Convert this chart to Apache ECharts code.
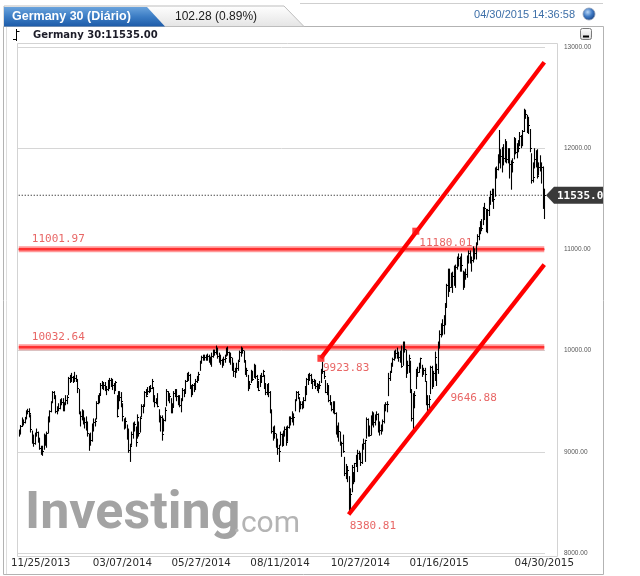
<!DOCTYPE html>
<html>
<head>
<meta charset="utf-8">
<script src="https://cdn.jsdelivr.net/npm/echarts@6/dist/echarts.min.js"></script>
<style>
html,body{margin:0;padding:0;background:#fff;}
#c{width:640px;height:576px;}
</style>
</head>
<body>
<div id="c"></div>
<script>
// ---- Data: daily bars [low, high, close], Germany 30 (DAX) ----
const nov13 = [
 [9150,9220,9190],[9170,9265,9255],
 [9245,9340,9299],[9260,9320,9292],[9280,9345,9336],[9320,9410,9400],[9370,9425,9405]
];
const dec13 = [
 [9340,9430,9380],[9190,9370,9225],[9080,9210,9140],[9050,9170,9085],[9070,9190,9172],
 [9150,9230,9191],[9090,9200,9114],[9020,9140,9035],[8970,9060,9017],[8960,9060,9006],
 [9020,9180,9163],[9060,9170,9085],[9040,9200,9181],[9180,9350,9336],[9290,9410,9400],
 [9390,9500,9488],[9480,9600,9590],[9520,9600,9552]
];
const jan14 = [
 [9380,9560,9400],[9370,9450,9435],
 [9400,9480,9428],[9420,9520,9506],[9460,9530,9497],[9400,9530,9421],[9400,9490,9473],
 [9460,9560,9510],[9470,9560,9540],[9560,9740,9733],[9680,9760,9717],[9690,9780,9742],
 [9680,9750,9715],[9690,9790,9730],[9690,9760,9720],[9580,9720,9631],[9370,9620,9392],
 [9250,9400,9349],[9310,9420,9406],[9270,9410,9300],[9230,9340,9290],[9210,9350,9270]
];
const feb14 = [
 [9150,9300,9186],[9010,9180,9127],[9060,9190,9117],[9100,9280,9265],[9200,9330,9290],
 [9250,9330,9300],[9320,9500,9478],[9470,9560,9540],[9480,9580,9563],[9560,9680,9662],
 [9620,9700,9656],[9610,9690,9660],[9600,9690,9610],[9560,9650,9618],[9600,9710,9656],
 [9620,9730,9708],[9640,9730,9699],[9610,9720,9661],[9570,9680,9631],[9600,9700,9692]
];
const mar14 = [
 [9340,9560,9358],[9420,9600,9589],[9500,9600,9542],[9440,9590,9498],[9300,9480,9350],
 [9220,9330,9265],[9230,9340,9307],[9120,9270,9189],[8990,9230,9017],[8900,9080,9056],
 [9060,9200,9180],[9130,9290,9242],[9200,9300,9277],[9050,9250,9093],[9130,9370,9342],
 [9150,9300,9188],[9190,9350,9338],[9340,9470,9448],[9380,9470,9451],[9450,9600,9587],
 [9540,9620,9556]
];
const apr14 = [
 [9560,9640,9603],[9580,9650,9623],[9590,9660,9628],[9620,9720,9695],
 [9490,9640,9510],[9440,9560,9490],[9470,9530,9506],[9440,9580,9455],[9290,9420,9315],
 [9200,9360,9340],[9110,9360,9173],[9200,9330,9317],[9300,9440,9409],
 [9450,9620,9600],[9500,9600,9545],[9480,9580,9548],[9380,9530,9401],
 [9380,9480,9446],[9440,9600,9585],[9540,9620,9603]
];
const may14 = [
 [9500,9620,9556],
 [9460,9560,9530],[9440,9560,9467],[9390,9530,9521],[9500,9630,9607],[9540,9620,9581],
 [9580,9710,9703],[9690,9780,9754],[9700,9790,9762],[9620,9770,9656],[9540,9660,9630],
 [9560,9670,9659],[9590,9680,9639],[9610,9720,9697],[9680,9750,9720],[9700,9790,9768],
 [9800,9900,9892],[9870,9950,9940],[9900,9960,9939],[9900,9960,9938],[9900,9960,9943]
];
const jun14 = [
 [9900,9970,9950],[9880,9960,9920],[9860,9940,9926],[9840,9980,9947],[9930,10010,9987],
 [9950,10010,9990],[9960,10050,10028],[9920,10030,9950],[9880,9980,9938],[9860,9960,9912],
 [9830,9920,9883],[9850,9940,9920],[9880,9960,9929],[9940,10030,10004],[9950,10040,9987],
 [9880,9990,9920],[9860,9980,9938],[9800,9930,9868],[9740,9880,9795],[9730,9830,9815],
 [9780,9880,9833]
];
const jul14 = [
 [9800,9910,9902],[9900,10000,9990],[9940,10040,10009],[9970,10030,10009],
 [9880,10000,9907],[9760,9900,9772],[9740,9830,9808],[9600,9760,9659],[9620,9700,9666],
 [9680,9810,9783],[9700,9800,9719],[9730,9870,9859],[9720,9860,9753],[9630,9760,9720],
 [9600,9700,9613],[9640,9760,9734],[9680,9780,9753],[9740,9810,9797],[9620,9760,9644],
 [9560,9680,9593],[9560,9670,9653],[9540,9680,9593],[9380,9600,9407]
];
const aug14 = [
 [9180,9420,9210],
 [9110,9250,9154],[9130,9260,9189],[9040,9180,9130],[8970,9130,9039],[8900,9070,9009],
 [9060,9200,9180],[9050,9180,9070],[9060,9210,9199],[9150,9250,9225],[9060,9250,9093],
 [9100,9260,9245],[9230,9350,9334],[9260,9350,9336],[9290,9400,9315],[9260,9380,9339],
 [9400,9520,9510],[9500,9600,9588],[9520,9600,9569],[9390,9540,9462],[9420,9500,9470]
];
const sep14 = [
 [9420,9500,9459],[9430,9540,9507],[9500,9650,9626],[9560,9730,9724],[9660,9770,9747],
 [9700,9780,9758],[9670,9770,9686],[9620,9720,9700],[9650,9720,9691],[9620,9710,9651],
 [9600,9680,9660],[9580,9670,9632],[9620,9700,9661],[9680,9820,9799],[9770,9890,9799],
 [9720,9800,9749],[9580,9710,9595],[9560,9680,9661],[9490,9660,9510],[9460,9560,9490],
 [9400,9490,9422],[9380,9500,9474]
];
const oct14 = [
 [9370,9500,9382],[9170,9390,9195],[9140,9260,9195],
 [9100,9290,9210],[9060,9200,9086],[8950,9100,9086],[8990,9170,9005],[8760,8950,8788],
 [8730,8880,8812],[8700,8860,8825],[8385,8760,8572],[8420,8640,8582],[8600,8870,8850],
 [8680,8800,8717],[8700,8890,8886],[8850,8970,8940],[8800,9020,8987],[8920,9010,8988],
 [8860,8990,8902],[8880,9080,9068],[9020,9130,9083],[8900,9120,9114],[9130,9340,9326]
];
const nov14 = [
 [9150,9330,9251],[9150,9260,9167],[9160,9360,9316],[9260,9400,9378],[9240,9390,9291],
 [9260,9370,9351],[9310,9400,9369],[9190,9380,9211],[9160,9300,9220],[9170,9270,9252],
 [9200,9320,9306],[9280,9470,9456],[9400,9490,9473],[9390,9500,9472],[9550,9780,9732],
 [9700,9800,9785],[9780,9880,9861],[9840,9930,9915],[9900,10000,9974],[9920,10010,9980]
];
const dec14 = [
 [9920,10030,9963],[9890,9990,9934],[9880,10000,9971],[9830,10050,9851],[9850,10090,10087],
 [9980,10090,10014],[9730,10010,9799],[9770,9900,9862],[9780,9960,9928],[9580,9900,9594],
 [9300,9620,9334],[9220,9580,9563],[9430,9600,9564],[9620,9820,9811],[9740,9840,9787],
 [9780,9880,9865],[9820,9930,9922],
 [9740,9860,9783],[9760,9830,9805]
];
const jan15 = [
 [9690,9830,9765],
 [9460,9700,9473],[9380,9560,9469],[9430,9560,9518],[9570,9850,9837],[9620,9850,9648],
 [9640,9800,9781],[9700,9990,9941],[9650,9870,9817],[9770,10090,10032],[10020,10200,10167],
 [10130,10270,10242],[10150,10310,10257],[10160,10350,10299],[10250,10470,10435],[10430,10660,10649],
 [10530,10810,10798],[10580,10810,10628],[10620,10770,10710],[10570,10780,10738],[10640,10840,10694]
];
const feb15 = [
 [10620,10850,10828],[10800,10930,10891],[10830,10960,10911],[10780,10930,10905],[10780,10960,10846],
 [10600,10790,10664],[10620,10780,10752],[10700,10810,10753],[10720,10940,10919],[10860,10990,10963],
 [10860,10990,10924],[10780,10930,10895],[10870,11030,11001],[10900,11010,10961],[10900,11070,11050],
 [11040,11150,11131],[11090,11220,11206],[11150,11280,11211],[11180,11300,11210],[11240,11420,11401]
];
const mar15 = [
 [11290,11460,11409],[11170,11400,11280],[11160,11400,11389],[11330,11520,11504],[11440,11580,11551],
 [11470,11600,11583],[11400,11600,11500],[11520,11810,11806],[11700,11820,11799],[11780,11940,11901],
 [11850,12180,11980],[11800,11990,11922],[11760,12010,11942],[11830,12040,11899],[11860,12090,12040],
 [11850,12070,11896],[11850,12000,11964],[11700,12000,11842],[11590,11880,11843],[11760,11900,11868],
 [11890,12110,12086],[11940,12100,11966]
];
const apr15 = [
 [11900,12050,11968],[11960,12080,12002],
 [12020,12160,12124],[12000,12130,12036],[12020,12180,12166],[12160,12390,12375],
 [12290,12380,12338],[12150,12330,12227],[12140,12310,12231],[11960,12190,11998],[11650,11950,11689],
 [11660,11860,11717],[11800,12000,11892],[11810,11980,11935],[11700,11990,11723],[11730,11860,11810],
 [11770,11930,11811],[11650,11860,11811],[11400,11820,11432],[11300,11600,11535]
];

// trading calendar
const firstDay = '2013-11-21';
const lastDay = '2015-04-30';
const holidays = ['2013-12-24','2013-12-25','2013-12-26','2013-12-31','2014-01-01','2014-04-18','2014-04-21',
  '2014-05-01','2014-12-24','2014-12-25','2014-12-26','2014-12-31','2015-01-01','2015-04-03','2015-04-06'];

// tick labels on the date axis
const xLabelDates = ['11/25/2013','03/07/2014','05/27/2014','08/11/2014','10/27/2014','01/16/2015','04/30/2015'];

// horizontal levels and trend channel (date, value)
const levels = [11001.97, 10032.64];
const lastPrice = 11535.00;
const upperChannel = [['09/18/2014', 9923.83], ['04/30/2015', 12850]];
const lowerChannel = [['10/15/2014', 8380.81], ['04/30/2015', 10850]];
const anchors = [['09/18/2014', 9923.83], ['12/18/2014', 11180.01]];
const channelTags = [['09/18/2014', 9923.83], ['12/18/2014', 11180.01], ['01/23/2015', 9646.88], ['10/15/2014', 8380.81]];
const levelTagDate = '12/04/2013';

// ---- build ----
const bars = [].concat(nov13, dec13, jan14, feb14, mar14, apr14, may14, jun14, jul14, aug14,
  sep14, oct14, nov14, dec14, jan15, feb15, mar15, apr15);

function pad(n){ return (n < 10 ? '0' : '') + n; }
const dates = [];
(function(){
  const hol = new Set(holidays);
  let t = Date.parse(firstDay + 'T00:00:00Z');
  const end = Date.parse(lastDay + 'T00:00:00Z');
  while (t <= end) {
    const d = new Date(t);
    const wd = d.getUTCDay();
    const iso = d.getUTCFullYear() + '-' + pad(d.getUTCMonth()+1) + '-' + pad(d.getUTCDate());
    if (wd !== 0 && wd !== 6 && !hol.has(iso)) {
      dates.push(pad(d.getUTCMonth()+1) + '/' + pad(d.getUTCDate()) + '/' + d.getUTCFullYear());
    }
    t += 86400000;
  }
})();

const barData = bars.map((b, i) => [i, b[0], b[1], b[2]]);

const chart = echarts.init(document.getElementById('c'), null, {renderer: 'canvas'});

const RED = '#ff0000';
const TAGRED = '#e2403f';

const option = {
  animation: false,
  backgroundColor: '#ffffff',
  grid: {left: 18, right: 95, top: 47, bottom: 23, containLabel: false},
  xAxis: {
    type: 'category',
    data: dates,
    boundaryGap: true,
    axisLine: {show: false},
    axisTick: {show: false},
    splitLine: {show: false},
    axisLabel: {
      interval: (idx, val) => xLabelDates.indexOf(val) >= 0,
      formatter: (val) => val === xLabelDates[0] ? '{f|' + val + '}' : val,
      rich: {f: {padding: [0, 0, 0, 38], fontFamily: 'DejaVu Sans', fontSize: 10.3, color: '#2a2a2a'}},
      fontFamily: 'DejaVu Sans',
      fontSize: 10.3,
      color: '#2a2a2a',
      margin: 5
    }
  },
  yAxis: {
    type: 'value',
    position: 'right',
    min: 8000, max: 13000, interval: 1000,
    axisLine: {show: false},
    axisTick: {show: false},
    splitLine: {lineStyle: {color: '#d6d6d6', width: 1}},
    axisLabel: {
      formatter: (v) => v.toFixed(2),
      fontFamily: 'Liberation Sans',
      fontSize: 6.5,
      color: '#555',
      margin: 19
    }
  },
  series: [
    // horizontal support/resistance levels
    ...levels.map(v => ({
      type: 'line', z: 1, silent: true, symbol: 'none',
      data: [[dates[0], v], [dates[dates.length-1], v]],
      lineStyle: {color: 'rgba(255,70,70,0.55)', width: 6}
    })),
    ...levels.map(v => ({
      type: 'line', z: 1, silent: true, symbol: 'none',
      data: [[dates[0], v], [dates[dates.length-1], v]],
      lineStyle: {color: '#ff3030', width: 2.5}
    })),
    // last price dotted line
    {
      type: 'line', z: 1, silent: true, symbol: 'none',
      data: [[dates[0], lastPrice], [dates[dates.length-1], lastPrice]],
      lineStyle: {color: '#000', width: 1, type: [1, 2]}
    },
    // price bars (HLC)
    {
      type: 'custom', z: 2,
      data: barData,
      encode: {x: 0, y: [1, 2, 3]},
      renderItem: function (params, api) {
        const i = api.value(0);
        const lo = api.coord([i, api.value(1)]);
        const hi = api.coord([i, api.value(2)]);
        const cl = api.coord([i, api.value(3)]);
        const x = Math.round(lo[0]) + 0.5;
        return {
          type: 'group',
          children: [
            {type: 'line', shape: {x1: x, y1: lo[1], x2: x, y2: hi[1]}, style: {stroke: '#000', lineWidth: 1.1}},
            {type: 'line', shape: {x1: x, y1: Math.round(cl[1]) + 0.5, x2: x + 1.5, y2: Math.round(cl[1]) + 0.5}, style: {stroke: '#000', lineWidth: 1}}
          ]
        };
      }
    },
    // trend channel
    {
      type: 'line', z: 3, silent: true, symbol: 'none',
      data: upperChannel, lineStyle: {color: RED, width: 4.3}
    },
    {
      type: 'line', z: 3, silent: true, symbol: 'none',
      data: lowerChannel, lineStyle: {color: RED, width: 4.3}
    },
    {
      type: 'scatter', z: 4, silent: true,
      symbol: 'rect', symbolSize: 7,
      itemStyle: {color: '#ff1010'},
      data: anchors
    },
    // channel value tags
    {
      type: 'scatter', z: 5, silent: true, symbolSize: 0,
      data: channelTags.map((p, k) => ({
        value: p,
        label: {
          show: true,
          formatter: p[1].toFixed(2),
          position: [[2, 4], [3.5, 6], [4, 6], [1, 6]][k],
          align: 'left', verticalAlign: 'top',
          fontFamily: 'DejaVu Sans Mono', fontSize: 11, color: TAGRED
        }
      }))
    },
    // level tags
    {
      type: 'scatter', z: 5, silent: true, symbolSize: 0,
      data: levels.map(v => ({
        value: [levelTagDate, v],
        label: {
          show: true, formatter: v.toFixed(2),
          position: [0, -16], align: 'left', verticalAlign: 'top',
          fontFamily: 'DejaVu Sans Mono', fontSize: 11, color: TAGRED
        }
      }))
    }
  ]
};
chart.setOption(option);

const yTag = chart.convertToPixel({yAxisIndex: 0}, lastPrice);

chart.setOption({
  graphic: [
    // outer container
    {type: 'rect', z: -10, silent: true, shape: {x: 3.5, y: 26.5, width: 600, height: 548}, style: {fill: null, stroke: '#b3b3b3', lineWidth: 1}},
    {type: 'line', z: -10, silent: true, shape: {x1: 6.5, y1: 27, x2: 6.5, y2: 574}, style: {stroke: '#dedede', lineWidth: 1}},
    // plot panel
    {type: 'rect', z: -9, silent: true, shape: {x: 17.5, y: 43.5, width: 540, height: 513}, style: {fill: null, stroke: '#d3d3d3', lineWidth: 1}},
    // header strip
    {type: 'line', z: -8, silent: true, shape: {x1: 300, y1: 3.5, x2: 603, y2: 3.5}, style: {stroke: '#cfcfcf', lineWidth: 1}},
    {type: 'polygon', z: -8, silent: true, shape: {points: [[4,6],[284,6],[304,26.5],[4,26.5]]},
      style: {fill: new echarts.graphic.LinearGradient(0,0,0,1,[{offset:0,color:'#ffffff'},{offset:1,color:'#e4e4e4'}]), stroke: '#bdbdbd', lineWidth: 1}},
    {type: 'polygon', z: -7, silent: true, shape: {points: [[4,7],[147,7],[165,26.5],[4,26.5]]},
      style: {fill: new echarts.graphic.LinearGradient(0,0,0,1,[{offset:0,color:'#6aa3dc'},{offset:0.5,color:'#3b7cc4'},{offset:1,color:'#1d5ba8'}])}},
    {type: 'text', z: 10, silent: true, style: {text: 'Germany 30 (Diário)', x: 12, y: 17, fill: '#ffffff',
      font: 'bold 12.5px "Liberation Sans"', textVerticalAlign: 'middle'}},
    {type: 'text', z: 10, silent: true, style: {text: '102.28 (0.89%)', x: 175, y: 17, fill: '#1a1a1a',
      font: '12px "Liberation Sans"', textVerticalAlign: 'middle'}},
    {type: 'text', z: 10, silent: true, style: {text: '04/30/2015 14:36:58', x: 575, y: 15, fill: '#3d6fa8',
      font: '11px "Liberation Sans"', textAlign: 'right', textVerticalAlign: 'middle'}},
    {type: 'circle', z: 10, silent: true, shape: {cx: 589, cy: 14, r: 6},
      style: {fill: new echarts.graphic.RadialGradient(0.4,0.35,0.7,[{offset:0,color:'#b9d6f5'},{offset:0.5,color:'#3f7ac4'},{offset:1,color:'#163f80'}]), stroke: '#8a9bb5', lineWidth: 0.8}},
    // minimise button
    {type: 'rect', z: 10, silent: true, shape: {x: 580.5, y: 28.5, width: 11, height: 11, r: 2},
      style: {fill: new echarts.graphic.LinearGradient(0,0,0,1,[{offset:0,color:'#ffffff'},{offset:1,color:'#d5d5d5'}]), stroke: '#7a7a7a', lineWidth: 1}},
    {type: 'line', z: 11, silent: true, shape: {x1: 583, y1: 36.5, x2: 589, y2: 36.5}, style: {stroke: '#000', lineWidth: 2}},
    // instrument caption with bar icon
    {type: 'line', z: 10, silent: true, shape: {x1: 16.5, y1: 29, x2: 16.5, y2: 41}, style: {stroke: '#000', lineWidth: 1}},
    {type: 'line', z: 10, silent: true, shape: {x1: 13, y1: 39.5, x2: 16.5, y2: 39.5}, style: {stroke: '#000', lineWidth: 1}},
    {type: 'line', z: 10, silent: true, shape: {x1: 16.5, y1: 31.5, x2: 19.5, y2: 31.5}, style: {stroke: '#000', lineWidth: 1}},
    {type: 'text', z: 10, silent: true, style: {text: 'Germany 30:11535.00', x: 33, y: 35, fill: '#1c1c28',
      font: 'bold 10px "DejaVu Sans"', textVerticalAlign: 'middle'}},
    // watermark
    {type: 'text', z: -5, silent: true, style: {text: 'Investing', x: 25, y: 541, fill: '#a3a3a3',
      font: 'bold 52px Roboto', textVerticalAlign: 'bottom'}},
    {type: 'text', z: -5, silent: true, style: {text: '.com', x: 233, y: 539, fill: '#b4b4b4',
      font: '30px Roboto', textVerticalAlign: 'bottom'}},
    // last price tag
    {type: 'polygon', z: 20, silent: true, shape: {points: [[546, yTag], [554, yTag-8.5], [603, yTag-8.5], [603, yTag+8.5], [554, yTag+8.5]]},
      style: {fill: '#3a3a3a'}},
    {type: 'text', z: 21, silent: true, style: {text: '11535.0', x: 557, y: yTag + 0.5, fill: '#ffffff',
      font: 'bold 11px "DejaVu Sans Mono"', textVerticalAlign: 'middle'}}
  ]
});
</script>
</body>
</html>
